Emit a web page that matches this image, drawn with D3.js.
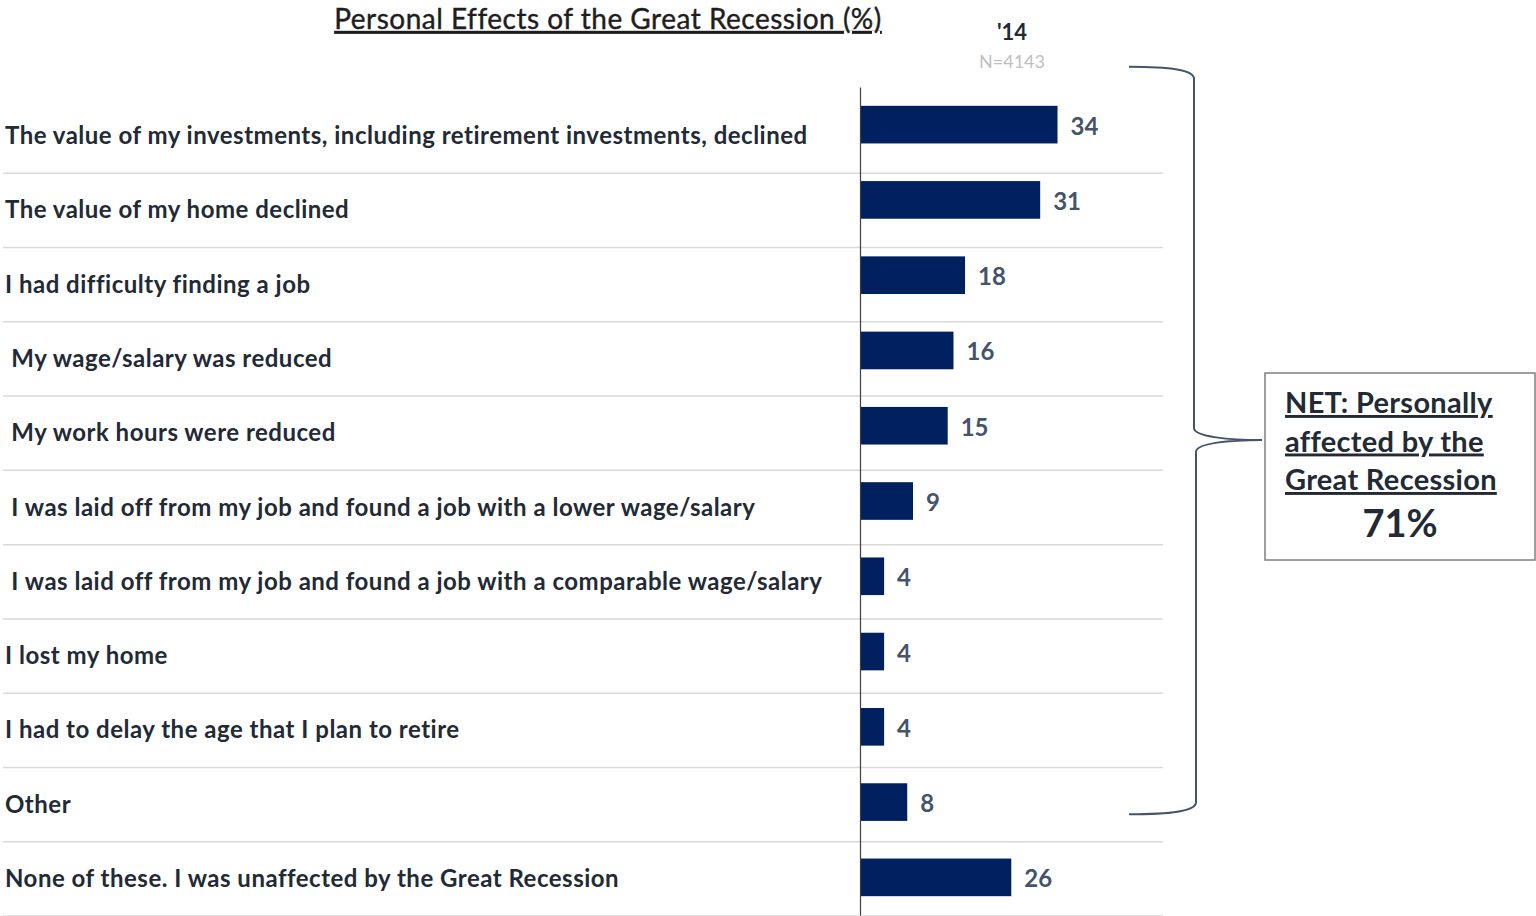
<!DOCTYPE html>
<html>
<head>
<meta charset="utf-8">
<script src="https://cdn.jsdelivr.net/npm/d3@7"></script>
<style>
  html, body { margin: 0; padding: 0; background: #fff; }
  svg text { font-family: Lato, "Open Sans", sans-serif; white-space: pre; }
</style>
</head>
<body>
<div id="chart"></div>
<script>
const categories = [
  'The value of my investments, including retirement investments, declined',
  'The value of my home declined',
  'I had difficulty finding a job',
  ' My wage/salary was reduced',
  ' My work hours were reduced',
  ' I was laid off from my job and found a job with a lower wage/salary',
  ' I was laid off from my job and found a job with a comparable wage/salary',
  'I lost my home',
  'I had to delay the age that I plan to retire',
  'Other',
  'None of these. I was unaffected by the Great Recession',
];
const values = [34, 31, 18, 16, 15, 9, 4, 4, 4, 8, 26];
const title = 'Personal Effects of the Great Recession (%)';
const seriesLabel = "'14";
const baseLabel = 'N=4143';
const netLines = ['NET: Personally', 'affected by the', 'Great Recession'];
const netValue = '71%';

const width = 1536;
const height = 916;

const svg = d3.select('#chart')
  .append('svg')
  .attr('width', width)
  .attr('height', height);

// rows hold the labels and separators, bars sit on a slightly looser band
const row = d3.scaleBand()
  .domain(categories)
  .range([99, 916]);

const y = d3.scaleBand()
  .domain(categories)
  .range([87, 915])
  .paddingInner(0.5)
  .paddingOuter(0.25);

const x = d3.scaleLinear()
  .domain([0, 100])
  .range([861, 1439]);

// title
svg.append('text')
  .attr('x', 608)
  .attr('y', 29)
  .attr('text-anchor', 'middle')
  .attr('font-size', 28)
  .attr('letter-spacing', 0.5)
  .attr('fill', '#1e1e1e')
  .attr('stroke', '#1e1e1e')
  .attr('stroke-width', 0.4)
  .attr('text-decoration', 'underline')
  .text(title);

svg.append('text')
  .attr('x', 1012)
  .attr('y', 40)
  .attr('text-anchor', 'middle')
  .attr('font-size', 22)
  .attr('font-weight', 'bold')
  .attr('fill', '#222a35')
  .text(seriesLabel);

svg.append('text')
  .attr('x', 1012)
  .attr('y', 68)
  .attr('text-anchor', 'middle')
  .attr('font-size', 18)
  .attr('fill', '#bfbfbf')
  .text(baseLabel);

// separators
svg.append('g')
  .selectAll('line')
  .data(categories)
  .join('line')
    .attr('x1', 3)
    .attr('x2', 1163)
    .attr('y1', d => row(d) + row.step())
    .attr('y2', d => row(d) + row.step())
    .attr('stroke', '#d9d9d9')
    .attr('stroke-width', 1.5);

// category labels
svg.append('g')
  .selectAll('text')
  .data(categories)
  .join('text')
    .attr('x', 5)
    .attr('y', d => row(d) + row.step() / 2 + 8)
    .attr('font-size', 24)
    .attr('letter-spacing', 0.5)
    .attr('font-weight', 'bold')
    .attr('fill', '#222a35')
    .text(d => d);

// bars
svg.append('g')
  .selectAll('rect')
  .data(values)
  .join('rect')
    .attr('x', x(0))
    .attr('y', (d, i) => y(categories[i]))
    .attr('width', d => x(d) - x(0))
    .attr('height', y.bandwidth())
    .attr('fill', '#002060');

svg.append('g')
  .selectAll('text')
  .data(values)
  .join('text')
    .attr('x', d => x(d) + 13)
    .attr('y', (d, i) => y(categories[i]) + y.bandwidth() / 2 + 10)
    .attr('font-size', 24)
    .attr('font-weight', 'bold')
    .attr('fill', '#44546a')
    .text(d => d);

// vertical axis line
const axis = svg.append('g')
  .attr('transform', 'translate(860, 0)')
  .call(d3.axisLeft(y).tickValues([]).tickSizeOuter(0));
axis.select('.domain')
  .attr('stroke', '#404040')
  .attr('stroke-width', 1.2);

// bracket around the affected items
const braceTop = y(categories[0]) - 39;
const braceBottom = y(categories[categories.length - 2]) + 31;
const mid = 440;
const bx = 1194;
const tip = 1262;
const brace = d3.path();
brace.moveTo(1129, braceTop);
brace.bezierCurveTo(1170, braceTop, bx, braceTop + 3, bx, braceTop + 12);
brace.lineTo(bx, mid - 12);
brace.bezierCurveTo(bx, mid - 3, 1230, mid, tip, mid);
brace.moveTo(tip, mid);
brace.bezierCurveTo(1230, mid, bx + 2, mid + 3, bx + 2, mid + 12);
brace.lineTo(bx + 2, braceBottom - 12);
brace.bezierCurveTo(bx + 2, braceBottom - 3, 1170, braceBottom, 1129, braceBottom);

svg.append('path')
  .attr('d', brace.toString())
  .attr('fill', 'none')
  .attr('stroke', '#44546a')
  .attr('stroke-width', 2);

// NET box
svg.append('rect')
  .attr('x', 1265)
  .attr('y', 373)
  .attr('width', 270)
  .attr('height', 187)
  .attr('fill', '#fff')
  .attr('stroke', '#7f7f7f')
  .attr('stroke-width', 1.5);

svg.append('g')
  .selectAll('text')
  .data(netLines)
  .join('text')
    .attr('x', 1285)
    .attr('y', (d, i) => 413 + i * 38.5)
    .attr('font-size', 29)
    .attr('letter-spacing', 0.3)
    .attr('font-weight', 'bold')
    .attr('fill', '#222a35')
    .attr('text-decoration', 'underline')
    .text(d => d);

svg.append('text')
  .attr('x', 1400)
  .attr('y', 537)
  .attr('text-anchor', 'middle')
  .attr('font-size', 38)
  .attr('font-weight', 'bold')
  .attr('fill', '#222a35')
  .text(netValue);
</script>
</body>
</html>
